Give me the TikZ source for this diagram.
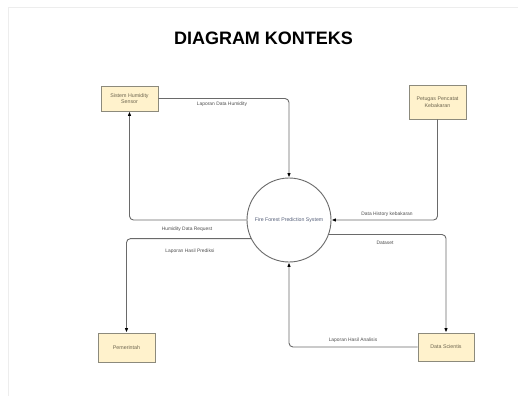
\documentclass[tikz,border=0pt]{standalone}
\usepackage{fontspec}
\setmainfont{Liberation Sans}
\usetikzlibrary{arrows.meta,calc}
\definecolor{boxfill}{HTML}{FFF2CC}
\definecolor{boxline}{HTML}{8C8A7C}
\definecolor{boxtext}{HTML}{6E6650}
\definecolor{linecol}{HTML}{6A6A6A}
\definecolor{lblcol}{HTML}{505050}
\definecolor{bordercol}{HTML}{EDEDED}
\definecolor{circtext}{HTML}{56607A}
\begin{document}
\begin{tikzpicture}[x=1pt,y=-1pt,
  ent/.style={draw=boxline, fill=boxfill, line width=0.9pt, font=\fontsize{5.3}{6.4}\selectfont, text=boxtext, align=center, inner sep=0pt},
  proc/.style={circle, draw=linecol, line width=0.9pt, fill=white, minimum size=84pt, inner sep=0pt, font=\fontsize{5.2}{6}\selectfont, text=circtext},
  flow/.style={draw=linecol, line width=0.9pt, rounded corners=4pt, -{Latex[length=4.5pt,width=3.6pt,color=black]}},
  lbl/.style={font=\fontsize{4.9}{5.5}\selectfont, text=lblcol, inner sep=0pt}]
\useasboundingbox (0,0) rectangle (518,397);
\fill[white] (0,0) rectangle (518,397);
\draw[bordercol, line width=1.5pt] (518,7.5) -- (8.5,7.5) -- (8.5,396);
\node[font=\bfseries\fontsize{18}{20}\selectfont] (title) at (263.5,38) {DIAGRAM KONTEKS};
\node[ent, minimum width=57pt, minimum height=25pt] (sensor) at (129.5,98.5) {Sistem Humidity\\Sensor};
\node[ent, minimum width=57pt, minimum height=34pt] (petugas) at (437.5,102) {Petugas Pencatat\\Kebakaran};
\node[ent, minimum width=57pt, minimum height=29pt] (pem) at (126.5,347.5) {Pemerintah};
\node[ent, minimum width=56pt, minimum height=28pt] (sci) at (446,347) {Data Scientis};
\node[proc] (c) at (289,220) {Fire Forest Prediction System};
\draw[flow] (sensor.east) -| (c.north);
\draw[flow] (c.west) -| (sensor.south);
\draw[flow] (c.206.9) -| (pem.north);
\draw[flow] (petugas.south) |- (c.east);
\draw[flow] (c.340.5) -| (sci.north);
\draw[flow] (sci.west) -| (c.south);
\node[lbl] (l1) at (222,104) {Laporan Data Humidity};
\node[lbl] (l2) at (187,229) {Humidity Data Request};
\node[lbl] (l3) at (190,251) {Laporan Hasil Prediksi};
\node[lbl] (l4) at (387,214) {Data History kebakaran};
\node[lbl] (l5) at (385,243) {Dataset};
\node[lbl] (l6) at (353,340) {Laporan Hasil Analisis};
\end{tikzpicture}
\end{document}
